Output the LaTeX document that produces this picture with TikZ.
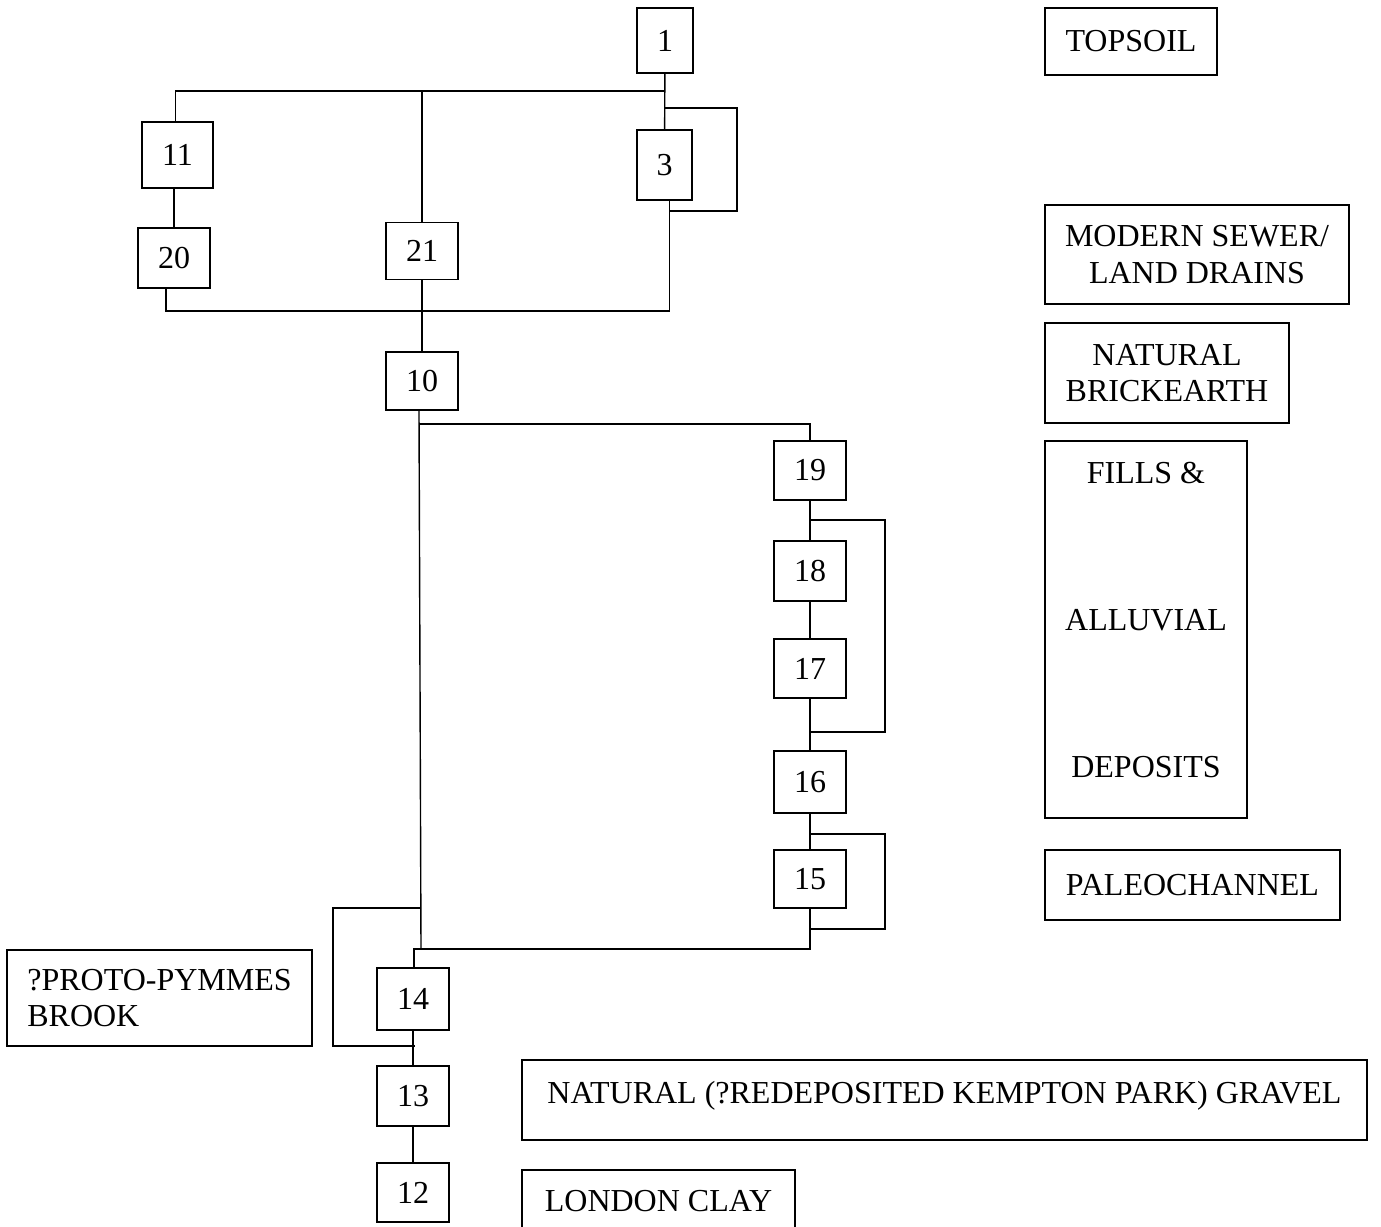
\documentclass[tikz,border=0pt]{standalone}
\usepackage{fontspec}
\setmainfont{Liberation Serif}
\usepackage{tikz}
\usetikzlibrary{calc}

\begin{document}
\begin{tikzpicture}[x=0.5pt, y=-0.5pt, line width=0.7pt,
    txt/.style={font=\fontsize{16}{18.3}\selectfont},
    unit/.style={txt, draw, inner sep=0pt, minimum width=36pt, minimum height=30pt},
    legend/.style={txt, draw, align=center, inner sep=0pt}]
    \useasboundingbox (0,0) rectangle (1381,1226);

    % Contexts
    \node[unit, minimum width=28pt, minimum height=32.5pt] (u1) at (665,40.5) {1};
    \node[unit, minimum width=27.5pt, minimum height=35pt] (u3) at (664.5,165) {3};
    \node[unit, minimum width=35.5pt, minimum height=33pt] (u11) at (177.5,155) {11};
    \node[unit] (u20) at (174,258) {20};
    \node[unit, minimum height=28.5pt] (u21) at (422,251) {21};
    \node[unit, minimum height=29pt] (u10) at (422,381) {10};
    \node[unit, minimum height=29.5pt] (u19) at (810,470.5) {19};
    \node[unit] (u18) at (810,571) {18};
    \node[unit, minimum height=29.5pt] (u17) at (810,668.5) {17};
    \node[unit, minimum height=31pt] (u16) at (810,782) {16};
    \node[unit, minimum height=29pt] (u15) at (810,879) {15};
    \node[unit, minimum height=31pt] (u14) at (413,999) {14};
    \node[unit, minimum height=30pt] (u13) at (413,1096) {13};
    \node[unit, minimum height=29.5pt] (u12) at (413,1192.5) {12};

    % Key
    \node[legend, minimum width=86pt, minimum height=33.5pt] (topsoil) at (1131,41.5) {TOPSOIL};
    \node[legend, minimum width=152pt, minimum height=49.5pt] (sewer) at (1197,254.5) {MODERN SEWER/\\LAND DRAINS};
    \node[legend, minimum width=122pt, minimum height=50pt] (brick) at (1167,373) {NATURAL\\BRICKEARTH};
    \node[legend, minimum width=101pt, minimum height=188.5pt, text depth=10pt] (fills) at (1146,629.5) {FILLS \&\\[55.2pt]ALLUVIAL\\[55.2pt]DEPOSITS};
    \node[legend, minimum width=147.5pt, minimum height=35pt] (paleo) at (1192.5,885) {PALEOCHANNEL};
    \node[legend, align=left, minimum width=152.5pt, minimum height=48pt] (brook) at (159.5,998) {?PROTO-PYMMES\\BROOK};
    \node[legend, minimum width=422.5pt, minimum height=40pt, text depth=7.5pt] (gravel) at (944.5,1100) {NATURAL (?REDEPOSITED KEMPTON PARK) GRAVEL};
    \node[legend, minimum width=136.5pt, minimum height=31pt] (clay) at (658.5,1201) {LONDON CLAY};

    % Junctions
    \coordinate (j1) at (665,91);
    \coordinate (l3a) at (665,108);
    \coordinate (l3b) at (737,211);
    \coordinate (l3c) at (670,211);
    \coordinate (jb) at (422,311);
    \coordinate (j10) at (419,424);
    \coordinate (j14) at (421,949);
    \coordinate (l19a) at (810,520);
    \coordinate (l19b) at (885,732);
    \coordinate (l19c) at (810,732);
    \coordinate (l16a) at (810,834);
    \coordinate (l16b) at (885,929);
    \coordinate (l16c) at (810,929);
    \coordinate (lpa) at (421,908);
    \coordinate (lpb) at (333,1046);
    \coordinate (lpc) at (415,1046);

    % Upper group
    \draw (u1) -- (u3);
    \draw ([xshift=-1pt]u11.north) |- (j1);
    \draw (u21.north) -- (u21.north |- j1);
    \draw (l3a) -| (l3b) -- (l3c);
    \draw (u11.south -| u20.north) -- (u20.north);
    \draw ([xshift=-4pt]u20.south) |- (jb) -| ([xshift=2.5pt]u3.south);
    \draw (u21) -- (u10);

    % Channel sequence
    \draw ([xshift=-1.5pt]u10.south) -- (j14);
    \draw (j10) -| (u19.north);
    \draw (u19) -- (u18);
    \draw (u18) -- (u17);
    \draw (u17) -- (u16);
    \draw (u16) -- (u15);
    \draw (l19a) -| (l19b) -- (l19c);
    \draw (l16a) -| (l16b) -- (l16c);
    \draw (u15.south) -- (u15.south |- j14) -| ([xshift=0.5pt]u14.north);
    \draw (lpa) -| (lpb) -- (lpc);

    % Base
    \draw (u14) -- (u13);
    \draw (u13) -- (u12);
\end{tikzpicture}
\end{document}
